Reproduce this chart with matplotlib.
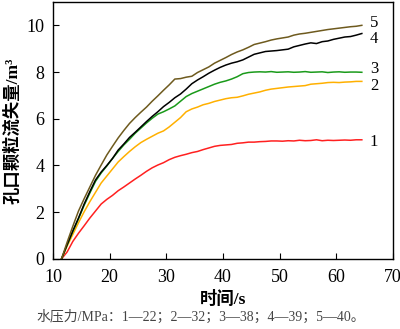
import matplotlib
matplotlib.use("Agg")
import matplotlib.pyplot as plt
import numpy as np

# 时间/s (common time base)
t = [11.5 + k for k in range(54)]

# 孔口颗粒流失量/m3 for each water pressure
q1 = [0, 0.3, 0.75, 1.1, 1.42, 1.75, 2.05, 2.35, 2.55, 2.72,
      2.92, 3.08, 3.25, 3.42, 3.58, 3.75, 3.9, 4.02, 4.12, 4.25,
      4.35, 4.42, 4.48, 4.55, 4.6, 4.68, 4.75, 4.82, 4.86, 4.88,
      4.9, 4.95, 4.97, 5.0, 5.0, 5.02, 5.03, 5.05, 5.05, 5.04,
      5.06, 5.05, 5.08, 5.06, 5.07, 5.1, 5.06, 5.08, 5.07, 5.08,
      5.09, 5.08, 5.1, 5.1]
q2 = [0, 0.55, 1.05, 1.55, 2.02, 2.45, 2.85, 3.25, 3.55, 3.85,
      4.15, 4.38, 4.6, 4.8, 4.98, 5.12, 5.25, 5.38, 5.48, 5.65,
      5.85, 6.05, 6.3, 6.42, 6.5, 6.6, 6.66, 6.74, 6.8, 6.86,
      6.9, 6.92, 6.98, 7.05, 7.1, 7.15, 7.22, 7.27, 7.3, 7.33,
      7.36, 7.38, 7.4, 7.42, 7.48, 7.5, 7.52, 7.55, 7.56, 7.55,
      7.57, 7.58, 7.6, 7.6]
q3 = [0, 0.6, 1.18, 1.72, 2.3, 2.82, 3.32, 3.68, 3.98, 4.3,
      4.6, 4.88, 5.12, 5.38, 5.6, 5.82, 6.02, 6.2, 6.3, 6.42,
      6.55, 6.75, 6.95, 7.08, 7.18, 7.28, 7.38, 7.48, 7.56, 7.62,
      7.7, 7.8, 7.93, 7.98, 8.0, 8.01, 8.0, 8.02, 7.99, 8.0,
      8.01, 7.99, 8.0, 8.02, 7.99, 8.0, 8.01, 7.98, 8.0, 8.01,
      7.99, 8.0, 8.0, 7.99]
q4 = [0, 0.62, 1.2, 1.75, 2.35, 2.88, 3.38, 3.72, 4.0, 4.3,
      4.66, 4.92, 5.2, 5.42, 5.65, 5.88, 6.1, 6.3, 6.52, 6.7,
      6.9, 7.06, 7.27, 7.5, 7.66, 7.8, 7.95, 8.08, 8.2, 8.3,
      8.38, 8.44, 8.52, 8.64, 8.76, 8.82, 8.88, 8.9, 8.92, 8.95,
      8.98, 9.08, 9.14, 9.2, 9.25, 9.22, 9.3, 9.33, 9.4, 9.45,
      9.5, 9.52, 9.58, 9.65]
q5 = [0, 0.72, 1.4, 2.05, 2.58, 3.08, 3.58, 4.02, 4.45, 4.82,
      5.18, 5.5, 5.8, 6.05, 6.28, 6.5, 6.75, 6.98, 7.22, 7.45,
      7.7, 7.72, 7.78, 7.82, 7.98, 8.1, 8.22, 8.38, 8.5, 8.62,
      8.75, 8.86, 8.95, 9.06, 9.18, 9.24, 9.3, 9.37, 9.42, 9.46,
      9.5, 9.58, 9.63, 9.66, 9.7, 9.74, 9.78, 9.82, 9.85, 9.88,
      9.91, 9.94, 9.96, 10.0]

labels = ["1", "2", "3", "4", "5"]
label_y = [5.0, 7.42, 8.12, 9.4, 10.1]
colors = ["#ff2020", "#ffb000", "#1a9a1a", "#000000", "#6e5a1e"]

plt.rcParams['font.family'] = ['Liberation Serif', 'Noto Sans CJK SC']

fig = plt.figure(figsize=(4.0, 3.29), dpi=100)
ax = fig.add_axes([0.1325, 0.213, 0.85, 0.781])

series = [q1, q2, q3, q4, q5]
for q, c in zip(series, colors):
    ax.plot(t, q, color=c, lw=1.1)

# curve numbers at the right end
for lab, ly in zip(labels, label_y):
    ax.text(65.9, ly, lab, fontsize=12, va='center', ha='left')

ax.set_xlim(10, 70)
ax.set_ylim(0, 11)
ax.set_xticks(np.arange(10, 71, 10))
ax.set_yticks(np.arange(0, 11, 2))
ax.tick_params(direction='in', length=4.5, width=0.8, labelsize=13)
ax.tick_params(axis='x', pad=7)
ax.tick_params(axis='y', pad=6)
for s in ax.spines.values():
    s.set_linewidth(1.0)

ax.set_xlabel("时间/s", fontsize=12.5, fontweight='bold', labelpad=4)
ax.set_ylabel("孔口颗粒流失量/m³", fontsize=12.5, fontweight='bold', labelpad=4)

fig.text(0.09, 0.037, "水压力/MPa：1—22；2—32；3—38；4—39；5—40。",
         fontsize=10, color='#444444', va='center', ha='left')

fig.savefig("out.png", dpi=100)
